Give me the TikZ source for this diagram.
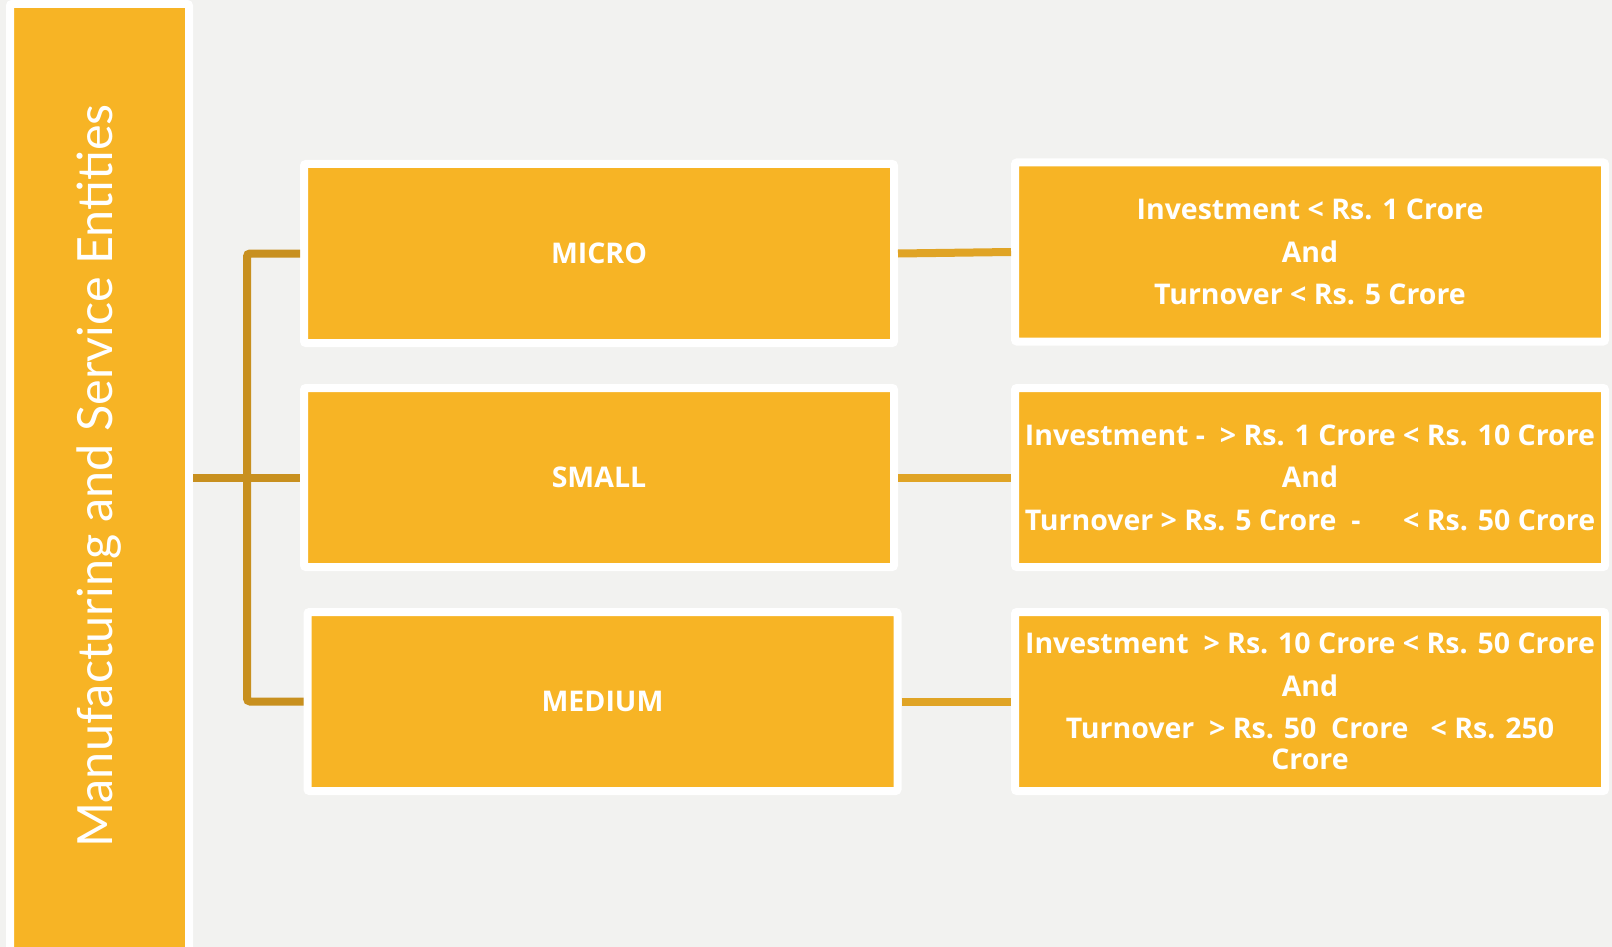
\documentclass[tikz,border=0pt]{standalone}
\usepackage{fontspec}
\setmainfont{Lato}
\newfontfamily\boxfont{Open Sans}
\definecolor{pagegray}{HTML}{F2F2F0}
\definecolor{tilegold}{HTML}{F7B425}
\definecolor{trunkgold}{HTML}{C8901F}
\definecolor{twiggold}{HTML}{E0A425}

\begin{document}
\begin{tikzpicture}[x=1pt,y=-1pt,
  tile/.style={draw=white,line width=8pt,fill=tilegold,rounded corners=2pt,
    minimum width=590pt,minimum height=179pt,inner sep=0pt,text=white,align=center},
  kind/.style={tile,font=\boxfont\bfseries\fontsize{28.5}{32}\selectfont},
  limits/.style={tile,font=\boxfont\bfseries\fontsize{28.5}{42.5}\selectfont},
  trunk/.style={draw=trunkgold,line width=8pt,rounded corners=3pt},
  twig/.style={draw=twiggold,line width=8pt}]
  \useasboundingbox (0,0) rectangle (1612,947);
  \fill[pagegray] (0,0) rectangle (1612,947);

  \node[tile,rotate=90,minimum width=956pt,font=\fontsize{48.5}{54}\selectfont]
    (entities) at (99.5,482) {\hspace{12pt}Manufacturing and Service Entities};

  \node[kind] (micro)  at (599,253.5) {MICRO};
  \node[kind] (small)  at (599,477.5) {SMALL};
  \node[kind] (medium) at (602.5,701.5) {MEDIUM};

  \node[limits] (microinfo) at (1310,252) {Investment < Rs. 1 Crore\\And\\Turnover < Rs. 5 Crore};
  \node[limits] (smallinfo) at (1310,477.5) {Investment -\ \ > Rs. 1 Crore < Rs. 10 Crore\\And\\Turnover > Rs. 5 Crore\ \ -\hspace{1.5em}< Rs. 50 Crore};
  \node[limits] (mediuminfo) at (1310,701.5) {Investment\ \ > Rs. 10 Crore < Rs. 50 Crore\\And\\Turnover\ \ > Rs. 50\ \ Crore\ \ \ < Rs. 250\\[-11.5pt]Crore};

  % tree on the left
  \coordinate (spine) at (247,0);
  \draw[trunk] (micro.west) -| (spine |- medium.west) -- (medium.west);
  \draw[trunk] (entities.south |- small.west) -- (small.west);

  % links to the limits
  \draw[twig] (micro.east) -- (microinfo.west);
  \draw[twig] (small.east) -- (smallinfo.west);
  \draw[twig] (medium.east) -- (mediuminfo.west);
\end{tikzpicture}
\end{document}
